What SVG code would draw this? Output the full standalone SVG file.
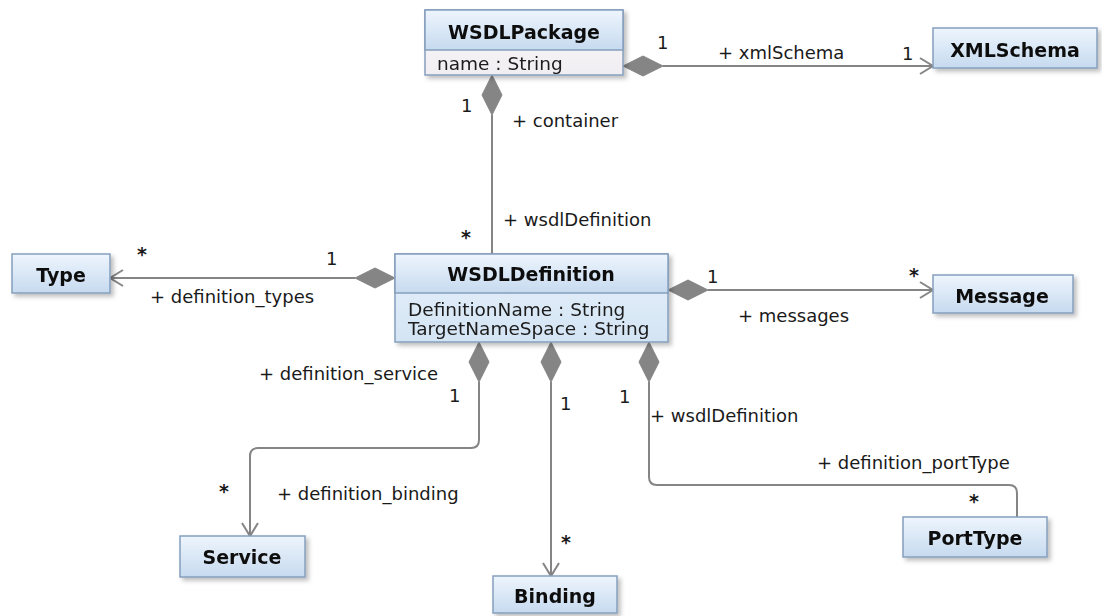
<svg xmlns="http://www.w3.org/2000/svg" width="1102" height="616" viewBox="0 0 1102 616">
  <defs>
    <linearGradient id="hdr" x1="0" y1="0" x2="0" y2="1">
      <stop offset="0" stop-color="#eef5fd"/>
      <stop offset="1" stop-color="#c6daef"/>
    </linearGradient>
    <linearGradient id="cmp" x1="0" y1="0" x2="0" y2="1">
      <stop offset="0" stop-color="#e9f2fb"/>
      <stop offset="1" stop-color="#d3e4f4"/>
    </linearGradient>
    <linearGradient id="cmpLight" x1="0" y1="0" x2="0" y2="1">
      <stop offset="0" stop-color="#fbf8fa"/>
      <stop offset="1" stop-color="#f1eef3"/>
    </linearGradient>
    <filter id="shadow" x="-10%" y="-20%" width="130%" height="160%">
      <feDropShadow dx="3" dy="3" stdDeviation="2" flood-color="#000" flood-opacity="0.25"/>
    </filter>
  </defs>
  <style>
    .box { stroke: #859fbd; stroke-width: 1.5; }
    .title { font-family: "DejaVu Sans", Verdana, sans-serif; font-weight: bold; font-size: 19px; fill: #111; text-anchor: middle; }
    .attr { font-family: "DejaVu Sans", Verdana, sans-serif; font-size: 18.5px; fill: #1a1a1a; }
    .lbl { font-family: "DejaVu Sans", Verdana, sans-serif; font-size: 18px; fill: #1a1a1a; }
    .mult { font-family: "DejaVu Sans", Verdana, sans-serif; font-size: 18px; fill: #1a1a1a; }
    .star { font-family: "DejaVu Sans", Verdana, sans-serif; font-size: 19px; font-weight: bold; fill: #1a1a1a; }
    .edge { fill: none; stroke: #858585; stroke-width: 2; }
    .diamond { fill: #858585; stroke: #858585; stroke-width: 1; }
    .arrow { fill: none; stroke: #858585; stroke-width: 2; }
  </style>

  <rect width="1102" height="616" fill="#ffffff"/>

  <!-- associations -->
  <g id="connectors">
    <!-- WSDLPackage -> XMLSchema -->
    <polygon class="diamond" points="623,66 643,56 663,66 643,76"/>
    <path class="edge" d="M663 66 H933"/>
    <path class="arrow" d="M920 58 L933 66 L920 74"/>
    <text class="mult" x="657" y="49">1</text>
    <text class="lbl" x="718" y="59">+ xmlSchema</text>
    <text class="mult" x="902" y="60">1</text>

    <!-- WSDLPackage <-> WSDLDefinition -->
    <polygon class="diamond" points="492,75 502,95 492,115 482,95"/>
    <path class="edge" d="M492 115 V254"/>
    <text class="mult" x="461" y="112">1</text>
    <text class="lbl" x="512" y="127">+ container</text>
    <text class="lbl" x="503" y="226">+ wsdlDefinition</text>
    <text class="star" x="461" y="244">*</text>

    <!-- WSDLDefinition -> Type -->
    <polygon class="diamond" points="395,278 375,268 355,278 375,288"/>
    <path class="edge" d="M355 278 H110"/>
    <path class="arrow" d="M123 270 L110 278 L123 286"/>
    <text class="star" x="137" y="261">*</text>
    <text class="mult" x="326" y="265">1</text>
    <text class="lbl" x="150" y="303">+ definition_types</text>

    <!-- WSDLDefinition -> Message -->
    <polygon class="diamond" points="668,290 688,280 708,290 688,300"/>
    <path class="edge" d="M708 290 H933"/>
    <path class="arrow" d="M920 282 L933 290 L920 298"/>
    <text class="mult" x="707" y="283">1</text>
    <text class="star" x="909" y="282">*</text>
    <text class="lbl" x="738" y="322">+ messages</text>

    <!-- WSDLDefinition -> Service -->
    <polygon class="diamond" points="479,342 489,362 479,382 469,362"/>
    <path class="edge" d="M479 382 V440 Q479 448 471 448 H258 Q250 448 250 456 V536"/>
    <path class="arrow" d="M242 523 L250 536 L258 523"/>
    <text class="lbl" x="259" y="380">+ definition_service</text>
    <text class="mult" x="449" y="402">1</text>
    <text class="star" x="219" y="498">*</text>
    <text class="lbl" x="277" y="500">+ definition_binding</text>

    <!-- WSDLDefinition -> Binding -->
    <polygon class="diamond" points="551,342 561,362 551,382 541,362"/>
    <path class="edge" d="M551 382 V576"/>
    <path class="arrow" d="M543 563 L551 576 L559 563"/>
    <text class="mult" x="560" y="410">1</text>
    <text class="star" x="561" y="549">*</text>

    <!-- WSDLDefinition <-> PortType -->
    <polygon class="diamond" points="649,342 659,362 649,382 639,362"/>
    <path class="edge" d="M649 382 V477 Q649 485 657 485 H1009 Q1017 485 1017 493 V517"/>
    <text class="mult" x="619" y="403">1</text>
    <text class="lbl" x="650" y="422">+ wsdlDefinition</text>
    <text class="lbl" x="817" y="469">+ definition_portType</text>
    <text class="star" x="969" y="508">*</text>
  </g>

  <!-- classes -->
  <g id="WSDLPackage" filter="url(#shadow)">
    <rect class="box" x="425" y="10" width="198" height="65" fill="url(#cmpLight)"/>
    <rect class="box" x="425" y="10" width="198" height="40" fill="url(#hdr)"/>
    <text class="title" x="524" y="39">WSDLPackage</text>
    <text class="attr" x="437" y="70">name : String</text>
  </g>

  <g id="XMLSchema" filter="url(#shadow)">
    <rect class="box" x="933" y="28" width="164" height="40" fill="url(#hdr)"/>
    <text class="title" x="1015" y="57">XMLSchema</text>
  </g>

  <g id="Type" filter="url(#shadow)">
    <rect class="box" x="12" y="254" width="98" height="39" fill="url(#hdr)"/>
    <text class="title" x="61" y="282">Type</text>
  </g>

  <g id="WSDLDefinition" filter="url(#shadow)">
    <rect class="box" x="395" y="254" width="273" height="88" fill="url(#cmp)"/>
    <rect class="box" x="395" y="254" width="273" height="39" fill="url(#hdr)"/>
    <text class="title" x="531" y="281">WSDLDefinition</text>
    <text class="attr" x="408" y="316">DefinitionName : String</text>
    <text class="attr" x="408" y="335">TargetNameSpace : String</text>
  </g>

  <g id="Message" filter="url(#shadow)">
    <rect class="box" x="933" y="275" width="140" height="38" fill="url(#hdr)"/>
    <text class="title" x="1002" y="303">Message</text>
  </g>

  <g id="Service" filter="url(#shadow)">
    <rect class="box" x="180" y="536" width="125" height="41" fill="url(#hdr)"/>
    <text class="title" x="242" y="564">Service</text>
  </g>

  <g id="Binding" filter="url(#shadow)">
    <rect class="box" x="493" y="576" width="124" height="37" fill="url(#hdr)"/>
    <text class="title" x="555" y="603">Binding</text>
  </g>

  <g id="PortType" filter="url(#shadow)">
    <rect class="box" x="903" y="517" width="144" height="40" fill="url(#hdr)"/>
    <text class="title" x="975" y="545">PortType</text>
  </g>
</svg>
